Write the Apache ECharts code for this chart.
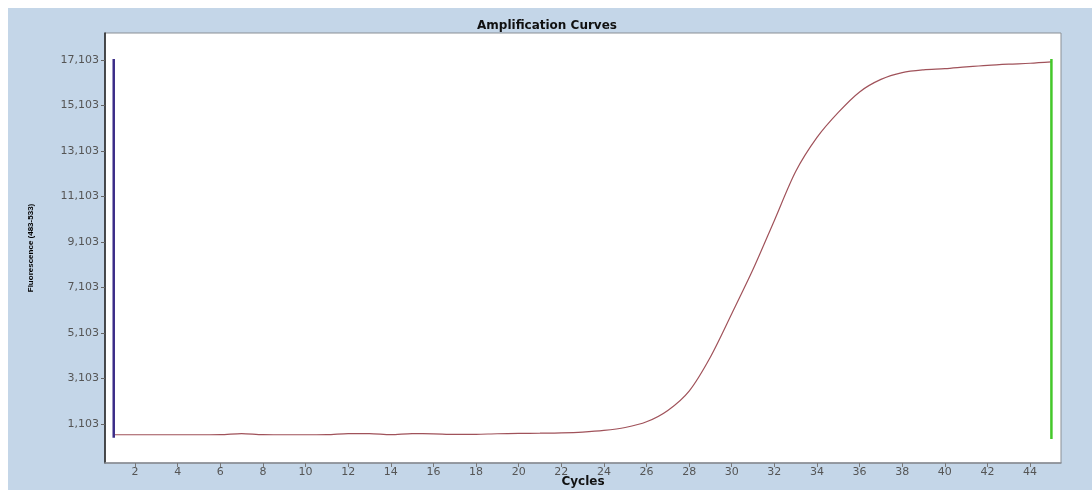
<!DOCTYPE html>
<html>
<head>
<meta charset="utf-8">
<title>Amplification Curves</title>
<script src="https://cdn.jsdelivr.net/npm/echarts@6/dist/echarts.min.js"></script>
<style>
  html, body { margin: 0; padding: 0; background: #ffffff; }
  #chart { width: 1092px; height: 490px; }
</style>
</head>
<body>
<div id="chart"></div>
<script>
// Cycle numbers and measured fluorescence of the sample
const cycles = [1,2,3,4,5,6,7,8,9,10,11,12,13,14,15,16,17,18,19,20,21,22,23,24,25,26,27,28,29,30,31,32,33,34,35,36,37,38,39,40,41,42,43,44,45];
const fluorescence = [630,630,630,630,630,632,680,632,630,630,632,680,680,632,680,672,645,650,675,690,700,715,750,820,950,1200,1700,2550,4050,5950,7900,10050,12200,13700,14800,15700,16250,16550,16670,16720,16800,16870,16920,16960,17020];

// Analysis window markers (first and last cycle)
const startMarker = { cycle: 1, low: 500, high: 17150 };
const endMarker = { cycle: 45, low: 440, high: 17150 };

// Axis ticks
const xTicks = [2,4,6,8,10,12,14,16,18,20,22,24,26,28,30,32,34,36,38,40,42,44];
const yTicks = [1103,3103,5103,7103,9103,11103,13103,15103,17103];

const chart = echarts.init(document.getElementById('chart'), null, { renderer: 'canvas' });

const fmt = v => String(Math.round(v)).replace(/\B(?=(\d{3})+(?!\d))/g, ',');

chart.setOption({
  animation: false,
  backgroundColor: '#ffffff',
  graphic: [{
    type: 'rect',
    z: -10,
    shape: { x: 8, y: 8, width: 1084, height: 482 },
    style: { fill: '#c4d6e8' }
  }],
  title: {
    text: 'Amplification Curves',
    left: 542,
    textAlign: 'center',
    top: 15,
    textStyle: { fontFamily: 'DejaVu Sans', fontWeight: 'bold', fontSize: 12, color: '#111' }
  },
  grid: {
    left: 105, right: 31, top: 33, bottom: 27,
    outerBoundsMode: 'none',
    containLabel: false,
    show: true,
    backgroundColor: '#ffffff',
    borderColor: '#8a8f95',
    borderWidth: 1
  },
  xAxis: {
    type: 'value',
    min: 0.59,
    max: 45.45,
    name: 'Cycles',
    nameLocation: 'middle',
    nameGap: 13,
    nameMoveOverlap: false,
    nameTextStyle: { fontFamily: 'DejaVu Sans', fontWeight: 'bold', fontSize: 12, color: '#111' },
    splitLine: { show: false },
    axisLine: { show: true, onZero: false, lineStyle: { color: '#8a8f95', width: 1.5 } },
    axisTick: { show: true, length: 4, inside: false, customValues: xTicks, lineStyle: { color: '#777' } },
    axisLabel: {
      customValues: xTicks,
      margin: 4,
      fontFamily: 'DejaVu Sans',
      fontSize: 11,
      color: '#555'
    }
  },
  yAxis: {
    type: 'value',
    min: -611,
    max: 18290,
    name: 'Fluorescence (483-533)',
    nameLocation: 'middle',
    nameRotate: 90,
    nameGap: 70,
    nameMoveOverlap: false,
    nameTextStyle: { fontFamily: 'Liberation Sans', fontSize: 8, fontWeight: 'bold', color: '#000' },
    splitLine: { show: false },
    axisLine: { show: true, onZero: false, lineStyle: { color: '#222', width: 1.5 } },
    axisTick: { show: true, length: 4, customValues: yTicks, lineStyle: { color: '#666' } },
    axisLabel: {
      customValues: yTicks,
      margin: 6,
      fontFamily: 'DejaVu Sans',
      fontSize: 11,
      color: '#555',
      formatter: fmt
    }
  },
  series: [
    {
      name: 'Sample',
      type: 'line',
      data: cycles.map((c, i) => [c, fluorescence[i]]),
      showSymbol: false,
      smooth: 0.3,
      lineStyle: { color: '#a0525a', width: 1.2 },
      z: 3
    },
    {
      name: 'Start',
      type: 'line',
      data: [[startMarker.cycle, startMarker.low], [startMarker.cycle, startMarker.high]],
      showSymbol: false,
      lineStyle: { color: '#3b2c88', width: 2.5 },
      z: 4
    },
    {
      name: 'End',
      type: 'line',
      data: [[endMarker.cycle, endMarker.low], [endMarker.cycle, endMarker.high]],
      showSymbol: false,
      lineStyle: { color: '#44c82a', width: 2.5 },
      z: 4
    }
  ]
});
</script>
</body>
</html>
